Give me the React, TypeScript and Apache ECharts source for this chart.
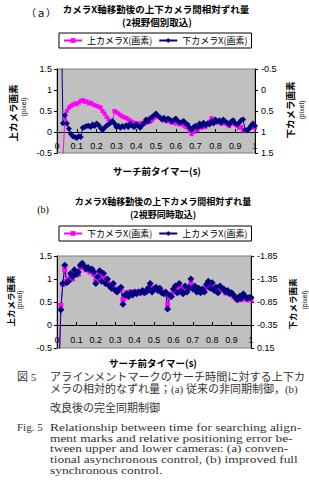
import { useEffect, useRef } from "react";
import * as echarts from "echarts";

// Timer values (s)
const TIME = [
  0.01, 0.02, 0.03, 0.04, 0.05, 0.06, 0.07, 0.08, 0.09, 0.1,
  0.11, 0.12, 0.13, 0.14, 0.15, 0.16, 0.17, 0.18, 0.19, 0.2,
  0.21, 0.22, 0.23, 0.24, 0.25, 0.26, 0.27, 0.28, 0.29, 0.3,
  0.31, 0.32, 0.33, 0.34, 0.35, 0.36, 0.37, 0.38, 0.39, 0.4,
  0.41, 0.42, 0.43, 0.44, 0.45, 0.46, 0.47, 0.48, 0.49, 0.5,
  0.51, 0.52, 0.53, 0.54, 0.55, 0.56, 0.57, 0.58, 0.59, 0.6,
  0.61, 0.62, 0.63, 0.64, 0.65, 0.66, 0.67, 0.68, 0.69, 0.7,
  0.71, 0.72, 0.73, 0.74, 0.75, 0.76, 0.77, 0.78, 0.79, 0.8,
  0.81, 0.82, 0.83, 0.84, 0.85, 0.86, 0.87, 0.88, 0.89, 0.9,
  0.91, 0.92, 0.93, 0.94, 0.95, 0.96, 0.97, 0.98, 0.99, 1.0,
];

// (a) upper camera X (left axis)
const A_UPPER = [
  -1.8, -1.5, -0.6, 0.32, 0.5, 0.58, 0.62, 0.65, 0.68, 0.66,
  0.7, 0.74, 0.76, 0.72, 0.73, 0.68, 0.7, 0.66, 0.64, 0.62,
  0.6, 0.58, 0.5, 0.44, 0.36, 0.3, 0.25, 0.22, 0.5, 0.47,
  0.44, 0.4, 0.37, 0.35, 0.33, 0.3, 0.27, 0.24, 0.22, 0.2,
  0.21, 0.18, 0.22, 0.19, 0.22, 0.25, 0.24, 0.28, 0.33, 0.36,
  0.38, 0.34, 0.3, 0.27, 0.29, 0.25, 0.27, 0.22, 0.24, 0.2,
  0.22, 0.18, 0.2, 0.15, 0.12, 0.1, 0.02, -0.05, 0.0, 0.08,
  0.05, 0.12, 0.1, 0.15, 0.12, 0.18, 0.25, 0.33, 0.3, 0.26,
  0.22, 0.25, 0.2, 0.24, 0.2, 0.18, 0.14, 0.2, 0.24, 0.18,
  0.15, 0.1, 0.12, 0.05, 0.02, 0.05, 0.08, 0.1, 0.12, 0.1,
];

// (a) lower camera X (right axis, inverted)
const A_LOWER = [
  -3.0, -2.0, 0.79, 0.6, 0.8, 0.92, 1.05, 1.1, 1.12, 1.14,
  1.1, 1.12, 0.9, 0.88, 0.86, 0.85, 0.88, 0.82, 0.86, 0.8,
  0.84, 0.9, 0.95, 0.9, 0.85, 0.82, 0.78, 0.74, 0.8, 0.88,
  0.85, 0.9, 0.86, 0.88, 0.84, 0.88, 0.8, 0.85, 0.88, 0.82,
  0.86, 0.9, 0.84, 0.78, 0.7, 0.75, 0.67, 0.64, 0.6, 0.56,
  0.62, 0.65, 0.7, 0.66, 0.72, 0.68, 0.7, 0.75, 0.72, 0.68,
  0.74, 0.78, 0.76, 0.74, 0.8, 0.82, 0.9, 0.95, 0.88, 0.85,
  0.9, 0.8, 0.86, 0.78, 0.84, 0.8, 0.82, 0.75, 0.8, 0.7,
  0.75, 0.72, 0.78, 0.7, 0.75, 0.78, 0.82, 0.75, 0.72, 0.8,
  0.82, 0.78, 0.72, 0.7, 0.95, 0.96, 0.92, 0.85, 0.8, 0.85,
];

// (b) upper camera X (left axis)
const B_UPPER = [
  -1.0, 0.33, 0.9, 1.3, 0.92, 0.95, 1.12, 1.05, 1.2, 1.1,
  1.15, 1.3, 1.34, 1.28, 1.22, 1.25, 1.2, 1.22, 1.15, 0.9,
  1.05, 1.18, 0.95, 1.12, 0.9, 1.0, 0.85, 0.8, 0.9, 0.75,
  0.72, 0.78, 0.82, 0.45, 0.65, 0.68, 0.62, 0.7, 0.65, 0.72,
  0.68, 0.72, 0.7, 0.75, 0.7, 0.72, 0.8, 0.9, 0.72, 0.78,
  0.82, 0.75, 0.8, 0.7, 0.68, 0.72, 0.35, 0.65, 0.62, 0.78,
  0.85, 0.7, 0.9, 0.75, 0.68, 0.85, 0.72, 0.82, 1.0, 0.78,
  0.85, 0.72, 0.8, 0.7, 0.78, 0.72, 0.88, 0.95, 0.8, 0.92,
  0.75, 0.82, 0.7, 0.85, 0.8, 0.78, 0.72, 0.75, 0.68, 0.7,
  0.65, 0.6, 0.55, 0.62, 0.58, 0.68, 0.62, 0.58, 0.6, 0.6,
];

// (b) lower camera X (right axis, inverted)
const B_LOWER = [
  0.65, -0.78, -1.23, -1.55, -1.3, -1.35, -1.43, -1.35, -1.5, -1.47,
  -1.45, -1.6, -1.65, -1.6, -1.55, -1.57, -1.5, -1.53, -1.45, -1.3,
  -1.35, -1.45, -1.35, -1.4, -1.27, -1.3, -1.23, -1.17, -1.2, -1.13,
  -1.1, -1.1, -1.13, -0.9, -0.95, -1.05, -1.0, -1.07, -1.05, -1.05,
  -1.07, -1.05, -1.07, -1.05, -1.09, -1.1, -1.13, -1.17, -1.11, -1.15,
  -1.15, -1.13, -1.11, -1.07, -1.05, -1.03, -0.8, -0.95, -1.0, -1.07,
  -1.15, -1.07, -1.17, -1.05, -1.07, -1.13, -1.1, -1.15, -1.25, -1.15,
  -1.15, -1.1, -1.13, -1.07, -1.1, -1.1, -1.17, -1.25, -1.17, -1.23,
  -1.13, -1.15, -1.07, -1.15, -1.13, -1.1, -1.05, -1.07, -1.03, -1.03,
  -0.97, -0.93, -0.9, -0.93, -0.9, -0.97, -0.93, -0.9, -0.9, -0.9,
];

const NAME_UP = "上カメラX(画素)";
const NAME_LOW = "下カメラX(画素)";
const SUFFIX_B = "#b";

const TITLE_1 = "カメラX軸移動後の上下カメラ間相対ずれ量";
const SUB_A = "(2視野個別取込)";
const SUB_B = "(2視野同時取込)";
const X_NAME = "サーチ前タイマー(s)";
const Y_LEFT = "上カメラ画素";
const Y_RIGHT = "下カメラ画素";

const CAPTION_JP = [
  "アラインメントマークのサーチ時間に対する上下カ",
  "メラの相対的なずれ量；(a) 従来の非同期制御，(b)",
  "改良後の完全同期制御",
];
const CAPTION_EN = [
  "Relationship between time for searching align-",
  "ment marks and relative positioning error be-",
  "tween upper and lower cameras: (a) conven-",
  "tional asynchronous control, (b) improved full",
  "synchronous control.",
];

const MAGENTA = "#ff00ff";
const NAVY = "#000080";
const JP = '"Noto Sans CJK JP", sans-serif';
const SANS = '"Liberation Sans", "Noto Sans CJK JP", sans-serif';
const SERIF = '"Liberation Serif", "Noto Sans CJK JP", serif';

const pairs = (ys: number[]) => TIME.map((t, i) => [t, ys[i]]);

function txt(x: number, y: number, text: string, o: any = {}) {
  const align = o.align || "center";
  return {
    type: "text",
    x,
    y,
    rotation: o.rotation || 0,
    scaleX: o.scaleX || 1,
    silent: true,
    style: {
      text,
      fontSize: o.fontSize || 9,
      fontWeight: o.fontWeight || "normal",
      fontFamily: o.fontFamily || JP,
      fill: o.fill || "#000",
      align,
      verticalAlign: "middle",
      textAlign: align,
      textVerticalAlign: "middle",
    },
  };
}

function xAxisCfg(gridIndex: number, offset: number, margin: number) {
  return {
    gridIndex,
    type: "value",
    min: 0,
    max: 1,
    interval: 0.1,
    position: "bottom",
    offset,
    axisLine: { onZero: false, lineStyle: { color: "#000", width: 1 } },
    axisTick: { show: true, inside: true, length: 3, lineStyle: { color: "#000" } },
    axisLabel: { fontSize: 9, color: "#000", margin, fontFamily: SANS, showMinLabel: true, showMaxLabel: true },
    splitLine: { show: false },
  };
}

function yAxisCfg(gridIndex: number, min: number, max: number, right: boolean) {
  return {
    gridIndex,
    type: "value",
    min,
    max,
    interval: 0.5,
    inverse: right,
    position: right ? "right" : "left",
    axisLine: { show: true, onZero: false, lineStyle: { color: "#000", width: 1 } },
    axisTick: { show: true, length: 3, lineStyle: { color: "#000" } },
    axisLabel: { fontSize: 9, color: "#000", margin: right ? 6 : 5, fontFamily: SANS },
    splitLine: { show: false },
  };
}

function lineSeries(name: string, xi: number, yi: number, data: number[][], color: string, symbol: string, size: number) {
  return {
    type: "line",
    name,
    xAxisIndex: xi,
    yAxisIndex: yi,
    data,
    color,
    symbol,
    symbolSize: size,
    showSymbol: true,
    showAllSymbol: true,
    clip: true,
    lineStyle: { color, width: 1 },
    itemStyle: { color, borderWidth: 0 },
  };
}

function legendCfg(data: string[], top: number) {
  return {
    data,
    left: 59,
    top,
    orient: "horizontal",
    borderColor: "#000",
    borderWidth: 1,
    padding: [3, 4, 3, 4],
    itemGap: 6,
    itemWidth: 18,
    itemHeight: 6,
    selectedMode: false,
    formatter: (n: string) => n.replace(SUFFIX_B, ""),
    textStyle: { fontSize: 9, fontFamily: JP, color: "#000" },
  };
}

export default function App() {
  const ref = useRef<HTMLDivElement>(null);
  useEffect(() => {
    if (!ref.current) return;
    const chart = echarts.init(ref.current, undefined, { renderer: "svg" });
    const gridStyle = { show: true, backgroundColor: "#c0c0c0", borderColor: "#808080", borderWidth: 1 };
    const capStyle = { align: "left", fontFamily: SERIF, fill: "#333" };
    const graphics: any[] = [
      txt(41, 13, "（ａ）", { fontSize: 10, fontFamily: SERIF }),
      txt(156, 9, TITLE_1, { fontSize: 9.5, fontWeight: "bold" }),
      txt(157, 22, SUB_A, { fontSize: 9.5, fontWeight: "bold" }),
      txt(13, 113, Y_LEFT, { fontSize: 9.5, fontWeight: "bold", rotation: Math.PI / 2 }),
      txt(23, 107, "(pixel)", { fontSize: 7, fontFamily: SANS, rotation: Math.PI / 2 }),
      txt(290, 110, Y_RIGHT, { fontSize: 9.5, fontWeight: "bold", rotation: Math.PI / 2 }),
      txt(301, 110, "(pixel)", { fontSize: 7, fontFamily: SANS, rotation: Math.PI / 2 }),
      txt(157, 171, X_NAME, { fontSize: 9.5, fontWeight: "bold" }),

      txt(43, 209, "(b)", { fontSize: 10, fontFamily: SERIF }),
      txt(163, 201, TITLE_1, { fontSize: 9, fontWeight: "bold" }),
      txt(163, 214, SUB_B, { fontSize: 9, fontWeight: "bold" }),
      txt(10, 301, Y_LEFT, { fontSize: 8.5, fontWeight: "bold", rotation: Math.PI / 2 }),
      txt(19, 300, "(pixel)", { fontSize: 7, fontFamily: SANS, rotation: Math.PI / 2 }),
      txt(292, 304, Y_RIGHT, { fontSize: 8.5, fontWeight: "bold", rotation: Math.PI / 2 }),
      txt(304, 300, "(pixel)", { fontSize: 7, fontFamily: SANS, rotation: Math.PI / 2 }),
      txt(153, 363, X_NAME, { fontSize: 9.5, fontWeight: "bold" }),

      txt(17, 377, "図 5", { fontSize: 11, ...capStyle }),
      txt(17, 427, "Fig. 5", { fontSize: 11, ...capStyle }),
    ];
    const jpY = [377, 389, 408];
    CAPTION_JP.forEach((s, i) =>
      graphics.push(txt(50, jpY[i], s, { fontSize: 11, scaleX: i === 0 ? 1.01 : 1, ...capStyle }))
    );
    const enY = [427, 438, 448, 459, 470];
    CAPTION_EN.forEach((s, i) => graphics.push(txt(50, enY[i], s, { fontSize: 11, scaleX: 1.22, ...capStyle })));

    chart.setOption({
      animation: false,
      backgroundColor: "#fff",
      grid: [
        { left: 57, top: 69, width: 198, height: 84, ...gridStyle },
        { left: 57, top: 256, width: 194, height: 92, ...gridStyle },
      ],
      xAxis: [xAxisCfg(0, -21, 9), xAxisCfg(1, -23, 10)],
      yAxis: [
        yAxisCfg(0, -0.5, 1.5, false),
        yAxisCfg(0, -0.5, 1.5, true),
        yAxisCfg(1, -0.5, 1.5, false),
        yAxisCfg(1, -1.85, 0.15, true),
      ],
      legend: [
        legendCfg([NAME_UP, NAME_LOW], 33),
        legendCfg([NAME_LOW + SUFFIX_B, NAME_UP + SUFFIX_B], 226),
      ],
      series: [
        lineSeries(NAME_UP, 0, 0, pairs(A_UPPER), MAGENTA, "rect", 4),
        lineSeries(NAME_LOW, 0, 1, pairs(A_LOWER), NAVY, "diamond", 6),
        lineSeries(NAME_LOW + SUFFIX_B, 1, 3, pairs(B_LOWER), MAGENTA, "rect", 5),
        lineSeries(NAME_UP + SUFFIX_B, 1, 2, pairs(B_UPPER), NAVY, "diamond", 7),
      ],
      graphic: graphics,
    });
    return () => chart.dispose();
  }, []);
  return (
    <div
      ref={ref}
      style={{ position: "fixed", left: 0, top: 0, width: 309, height: 502, background: "#fff" }}
    />
  );
}
